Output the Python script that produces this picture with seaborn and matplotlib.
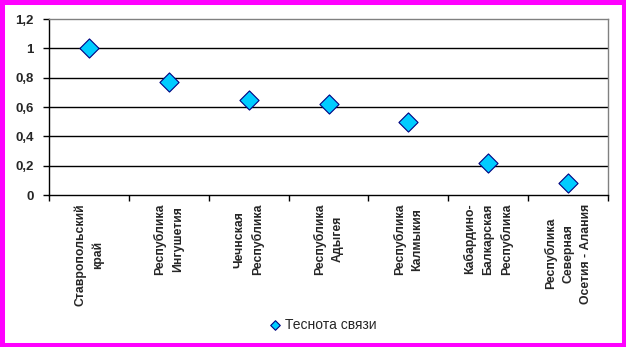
import matplotlib
matplotlib.use("Agg")
import matplotlib.pyplot as plt
from matplotlib.patches import Rectangle
from matplotlib.ticker import FixedLocator, FuncFormatter
import seaborn as sns
import pandas as pd

# Regions of the North Caucasus and the closeness-of-relationship coefficient
regions = [
    "Ставропольский\nкрай",
    "Республика\nИнгушетия",
    "Чечнская\nРеспублика",
    "Республика\nАдыгея",
    "Республика\nКалмыкия",
    "Кабардино-\nБалкарская\nРеспублика",
    "Республика\nСеверная\nОсетия - Алания",
]
closeness = [1.0, 0.77, 0.65, 0.62, 0.50, 0.22, 0.08]
series_name = "Теснота связи"
y_ticks = [0, 0.2, 0.4, 0.6, 0.8, 1.0, 1.2]

df = pd.DataFrame({"region": regions, "value": closeness})

sns.set_theme(style="white")
plt.rcParams["font.family"] = ["Liberation Sans", "DejaVu Sans"]

fig = plt.figure(figsize=(6.26, 3.47), dpi=100)
fig.patch.set_facecolor("white")
ax = fig.add_axes([49 / 626, 1 - 195 / 347, (608 - 49) / 626, (195 - 19) / 347])

sns.scatterplot(
    data=df, x="region", y="value", ax=ax,
    marker="D", s=95, color="#00CCFF", edgecolor="#000080", linewidth=0.8,
    label=series_name, zorder=3,
)

n = len(regions)
ax.set_xlim(-0.5, n - 0.5)
ax.set_ylim(y_ticks[0], y_ticks[-1])

# y axis: comma decimal labels, bold
ax.yaxis.set_major_locator(FixedLocator(y_ticks))
ax.yaxis.set_major_formatter(FuncFormatter(lambda v, p: f"{v:g}".replace(".", ",")))
ax.tick_params(axis="y", direction="out", length=4, width=1, color="black",
               labelsize=9.5, pad=7, left=True)
for t in ax.get_yticklabels():
    t.set_fontweight("bold")

# horizontal gridlines
ax.yaxis.grid(True, color="black", linewidth=1)
gl = ax.yaxis.get_gridlines()
gl[0].set_visible(False)
gl[-1].set_visible(False)
ax.set_axisbelow(True)

# x axis: category labels without ticks, boundary ticks as minor
ax.set_xticks(range(n))
ax.set_xticklabels(regions, rotation=90, ha="center", va="top",
                   multialignment="center", fontsize=8.8, fontweight="bold",
                   linespacing=1.6)
ax.tick_params(axis="x", which="major", length=0, pad=6)
ax.set_xticks([i - 0.5 for i in range(n + 1)], minor=True)
ax.tick_params(axis="x", which="minor", direction="out", length=4, width=1,
               color="black", bottom=True)

ax.set_xlabel("")
ax.set_ylabel("")

for side in ("left", "bottom"):
    ax.spines[side].set_color("black")
    ax.spines[side].set_linewidth(1)
for side in ("top", "right"):
    ax.spines[side].set_color("#808080")
    ax.spines[side].set_linewidth(1)

leg = ax.legend(loc="center", bbox_to_anchor=(323 / 626, 1 - 325 / 347),
                bbox_transform=fig.transFigure, frameon=False, fontsize=10,
                handlelength=0.8, handletextpad=0.3, markerscale=0.5,
                borderpad=0)

# magenta outer frame
fig.patches.append(Rectangle((0, 0), 1, 1, transform=fig.transFigure,
                             fill=False, edgecolor="#FF00FF", linewidth=6.5,
                             zorder=10))

fig.savefig("out.png", dpi=100, facecolor="white")
